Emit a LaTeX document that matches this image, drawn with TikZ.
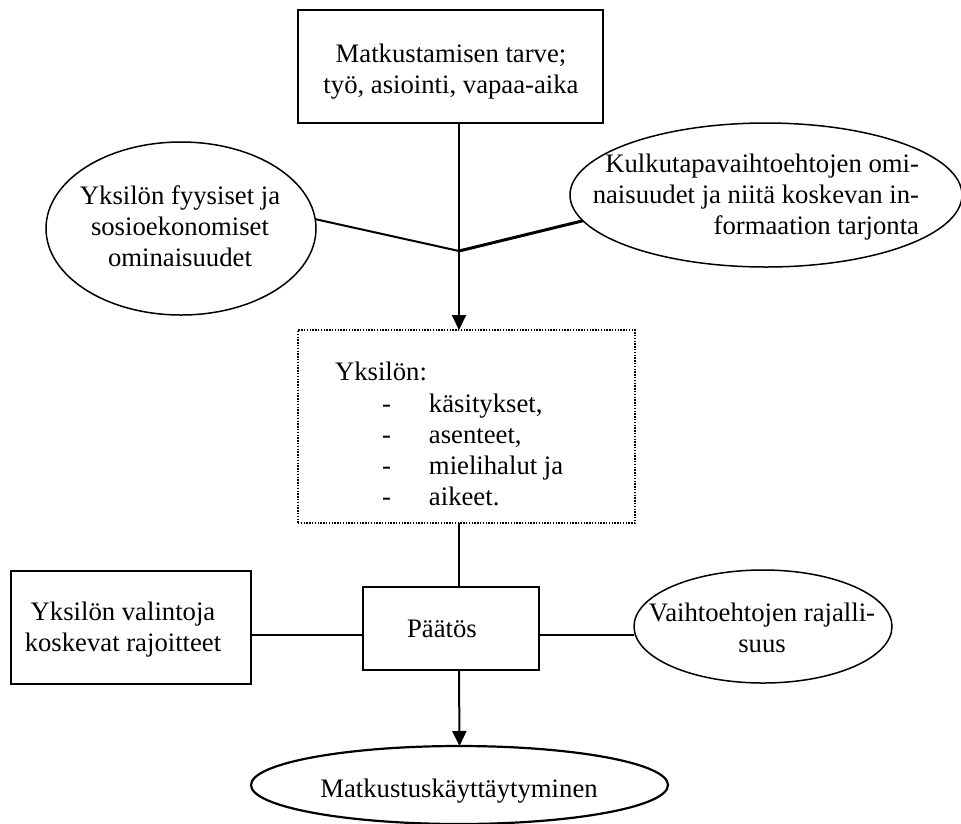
\documentclass[tikz,border=0pt]{standalone}
\usepackage{fontspec}
\setmainfont{Liberation Serif}
\usetikzlibrary{shapes.geometric,arrows.meta}

% rows of text whose baseline is the first row
\newcommand\txtrows[2]{\begin{tabular}[t]{@{}#1@{}}#2\end{tabular}}
\newcommand\listrow[1]{\makebox[47pt][l]{-}#1}

\begin{document}
\begin{tikzpicture}[x=1pt,y=-1pt,
  every node/.style={inner sep=0pt,outer sep=0pt},
  txt/.style={font=\fontsize{26.7}{31}\selectfont,anchor=base},
  boxed/.style={draw,rectangle,line width=2.2pt},
  oval/.style={draw,ellipse,line width=1.5pt},
  dotbox/.style={draw,rectangle,line width=1.2pt,dash pattern=on 1.4pt off 1.4pt},
  link/.style={line width=2pt},
  flow/.style={line width=2pt,-{Triangle[length=15pt,width=14pt]}}]
\useasboundingbox (0,0) rectangle (961,823);
\fill[white] (0,0) rectangle (961,823);

% shapes
\node[boxed,minimum width=305pt,minimum height=113pt] (need) at (450.5,66.5) {};
\node[oval,minimum width=270pt,minimum height=173pt] (person) at (181,228.5) {};
\node[oval,minimum width=392pt,minimum height=144pt] (modes) at (766,195) {};
\node[dotbox,minimum width=337pt,minimum height=193pt] (mind) at (466.5,426.5) {};
\node[boxed,minimum width=176pt,minimum height=83pt] (decision) at (451,628.5) {};
\node[boxed,minimum width=240pt,minimum height=113pt] (limits) at (131,627.5) {};
\node[oval,minimum width=258pt,minimum height=113pt] (choice) at (763,626.5) {};
\node[oval,line width=2.2pt,minimum width=417pt,minimum height=78pt] (behaviour) at (459.5,785) {};

% texts
\node[txt] (needtxt) at (451,62) {\txtrows{c}{Matkustamisen tarve;\\ työ, asiointi, vapaa-aika}};
\node[txt] (persontxt) at (180,204) {\txtrows{c}{Yksilön fyysiset ja\\ sosioekonomiset\\ ominaisuudet}};
\node[txt,anchor=base east] (modestxt) at (919,172) {\txtrows{r}{Kulkutapavaihtoehtojen omi-\\ naisuudet ja niitä koskevan in-\\ formaation tarjonta}};
\node[txt,anchor=base west] (mindhead) at (335,380) {Yksilön:};
\node[txt,anchor=base west] (mindlist) at (382,412) {\txtrows{l}{\listrow{käsitykset,}\\ \listrow{asenteet,}\\ \listrow{mielihalut ja}\\ \listrow{aikeet.}}};
\node[txt] (decisiontxt) at (442,637) {Päätös};
\node[txt] (limitstxt) at (123,620) {\txtrows{c}{Yksilön valintoja\\ koskevat rajoitteet}};
\node[txt] (choicetxt) at (762,621) {\txtrows{c}{Vaihtoehtojen rajalli-\\ suus}};
\node[txt] (behaviourtxt) at (459,797) {Matkustuskäyttäytyminen};

% connectors
\coordinate (J) at (459,251);
\coordinate (H) at (0,635);
\draw[link] (need.south -| J) -- (J);
\draw[link] (person.4) -- (J);
\draw[link,line width=3pt] (modes.188) -- (J);
\draw[flow] (J) -- (mind.north -| J);
\draw[link] (mind.south -| J) -- (decision.north -| J);
\draw[link] (limits.east |- H) -- (decision.west |- H);
\draw[link,line width=1.6pt] (decision.east |- H) -- (choice.west |- H);
\draw[flow] (decision.south -| J) -- (behaviour.north);
\end{tikzpicture}
\end{document}
